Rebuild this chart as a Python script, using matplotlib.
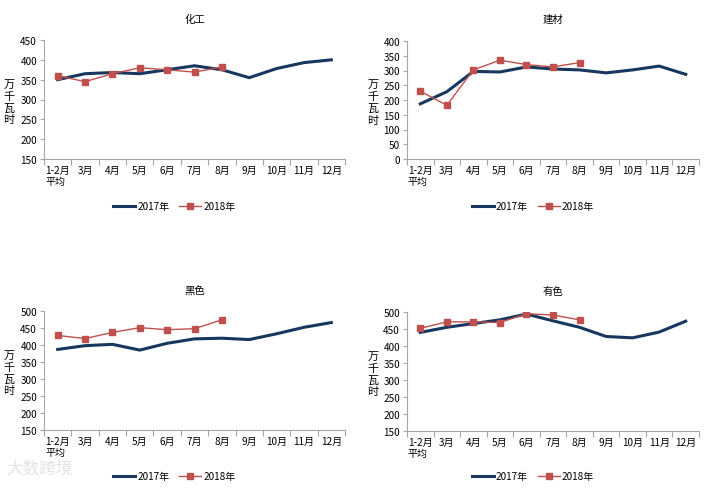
import matplotlib
matplotlib.use("Agg")
import matplotlib.pyplot as plt
import numpy as np

plt.rcParams['font.family'] = ['Noto Sans CJK SC', 'DejaVu Sans']

months = ['1-2月\n平均', '3月', '4月', '5月', '6月', '7月', '8月', '9月', '10月', '11月', '12月']

titles = ['化工', '建材', '黑色', '有色']

chem_2017 = [350, 365, 368, 365, 375, 385, 375, 355, 378, 393, 400]
chem_2018 = [360, 345, 365, 380, 375, 369, 382]
build_2017 = [187, 228, 297, 295, 312, 305, 302, 292, 302, 315, 287]
build_2018 = [230, 182, 302, 335, 320, 312, 327]
ferrous_2017 = [387, 398, 402, 385, 405, 418, 420, 416, 433, 452, 466]
ferrous_2018 = [428, 419, 437, 451, 445, 448, 474]
nonferrous_2017 = [440, 455, 466, 477, 494, 474, 455, 428, 424, 441, 473]
nonferrous_2018 = [452, 471, 471, 469, 495, 491, 477]

series_2017 = [chem_2017, build_2017, ferrous_2017, nonferrous_2017]
series_2018 = [chem_2018, build_2018, ferrous_2018, nonferrous_2018]
ylims = [(150, 450, 50), (0, 400, 50), (150, 500, 50), (150, 500, 50)]

W, H = 712, 489
fig = plt.figure(figsize=(W / 100, H / 100), dpi=100)

# axes boxes in pixels: left, top, right, bottom
boxes = [(44, 41, 345, 160), (407, 42, 699, 160), (44, 312, 345, 431), (407, 313, 699, 432)]
title_y = [20, 20, 292, 292]
legend_y = [207, 207, 477, 477]

c2017 = '#17375E'
c2018 = '#C0504D'
gray = '#A6A6A6'
fs = 7.2

for k in range(4):
    l, t, r, b = boxes[k]
    ax = fig.add_axes([l / W, 1 - b / H, (r - l) / W, (b - t) / H])
    x = np.arange(len(months)) + 0.5
    l1, = ax.plot(x, series_2017[k], color=c2017, lw=2.2, label='2017年')
    x2 = x[:len(series_2018[k])]
    l2, = ax.plot(x2, series_2018[k], color=c2018, lw=1.0, marker='s', ms=4.5,
                  mfc=c2018, mec=c2018, label='2018年')
    lo, hi, st = ylims[k]
    ax.set_ylim(lo, hi)
    ax.set_yticks(np.arange(lo, hi + 1, st))
    ax.set_xlim(0, len(months))
    ax.set_xticks(np.arange(len(months) + 1), minor=False)
    ax.set_xticklabels([])
    ax.set_xticks(x, minor=True)
    ax.set_xticklabels(months, minor=True, fontsize=fs, color='#000000')
    ax.tick_params(axis='x', which='major', length=4, color=gray, width=0.8, direction='out')
    ax.tick_params(axis='x', which='minor', length=0, pad=4)
    ax.tick_params(axis='y', length=3, color=gray, width=0.8, labelsize=fs, pad=2)
    for lab in ax.get_xticklabels(minor=True):
        if '\n' in lab.get_text():
            lab.set_horizontalalignment('center')
            lab.set_multialignment('left')
    for s in ['top', 'right']:
        ax.spines[s].set_visible(False)
    for s in ['left', 'bottom']:
        ax.spines[s].set_color(gray)
        ax.spines[s].set_linewidth(0.8)
    # title
    fig.text(((l + r) / 2) / W, 1 - title_y[k] / H, titles[k], ha='center', va='center', fontsize=7.5)
    # y label stacked characters
    fig.text((l - 35 + (0 if k % 2 == 0 else 1)) / W, 1 - ((t + b) / 2 + 2) / H, '万\n千\n瓦\n时',
             ha='center', va='center', fontsize=8, linespacing=1.2)
    # legend
    cx = (l + r) / 2 - 20
    fig.legend(handles=[l1, l2], loc='center', bbox_to_anchor=(cx / W, 1 - legend_y[k] / H),
               ncol=2, frameon=False, fontsize=fs, handlelength=2.2, columnspacing=1.0,
               handletextpad=0.2)

fig.text(6 / W, 1 - 470 / H, '大数跨境', fontsize=12, color='#E4E4E4', va='center', ha='left')

fig.savefig('out.png', dpi=100)
